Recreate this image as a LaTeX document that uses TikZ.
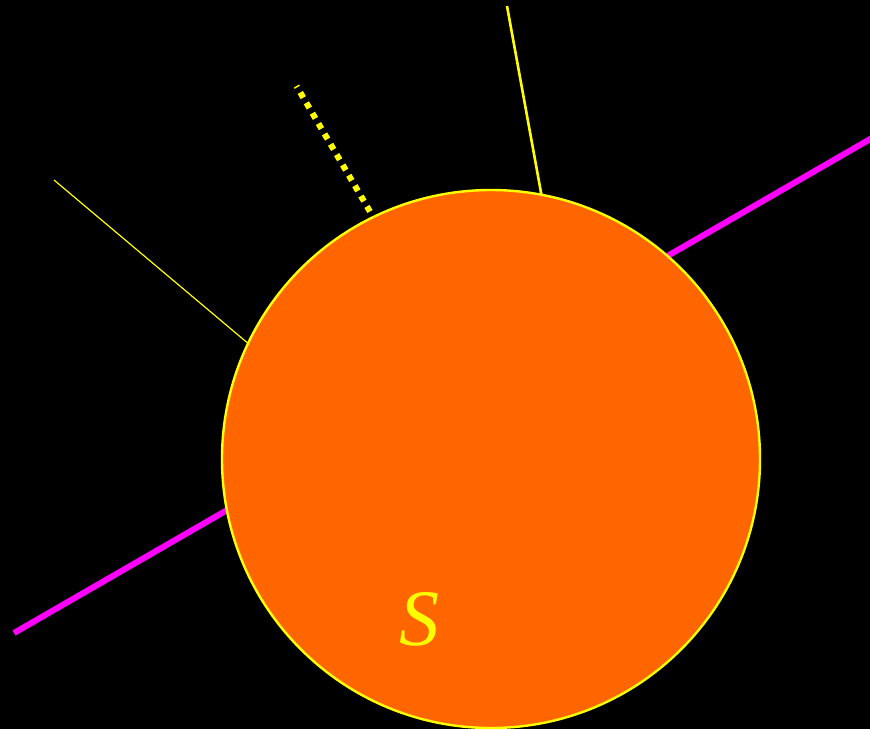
\documentclass[tikz,border=0pt]{standalone}
\usepackage{fontspec}
\setmainfont{Liberation Serif}
\definecolor{sunorange}{RGB}{255,102,0}
\definecolor{mag}{RGB}{255,0,255}
\definecolor{yel}{RGB}{255,255,0}
\begin{document}
\begin{tikzpicture}[x=1pt,y=-1pt,
  magline/.style={draw=mag,line width=6pt},
  thinray/.style={draw=yel,line width=1.2pt},
  midray/.style={draw=yel,line width=2.6pt},
  dotray/.style={draw=yel,line width=6pt,dash pattern=on 6pt off 6pt,dash phase=4.5pt}]
\fill[black] (0,0) rectangle (870,729);
\useasboundingbox (0,0) rectangle (870,729);
\coordinate (m1) at (14,633);
\coordinate (m2) at (872,138);
\draw[magline] (m1) -- (m2);
\coordinate (a1) at (54,180);
\coordinate (a2) at (250,345);
\draw[thinray] (a1) -- (a2);
\coordinate (b1) at (296.5,86);
\coordinate (b2) at (370,211.5);
\draw[dotray] (b1) -- (b2);
\coordinate (c1) at (507,6);
\coordinate (c2) at (542,198);
\draw[midray] (c1) -- (c2);
\node[circle,fill=sunorange,draw=yel,line width=2.4pt,minimum size=538pt,inner sep=0pt] (sun) at (491,459) {};
\node[text=yel,font=\fontsize{80}{80}\selectfont\itshape,inner sep=0pt] (S) at (419,619) {S};
\end{tikzpicture}
\end{document}
